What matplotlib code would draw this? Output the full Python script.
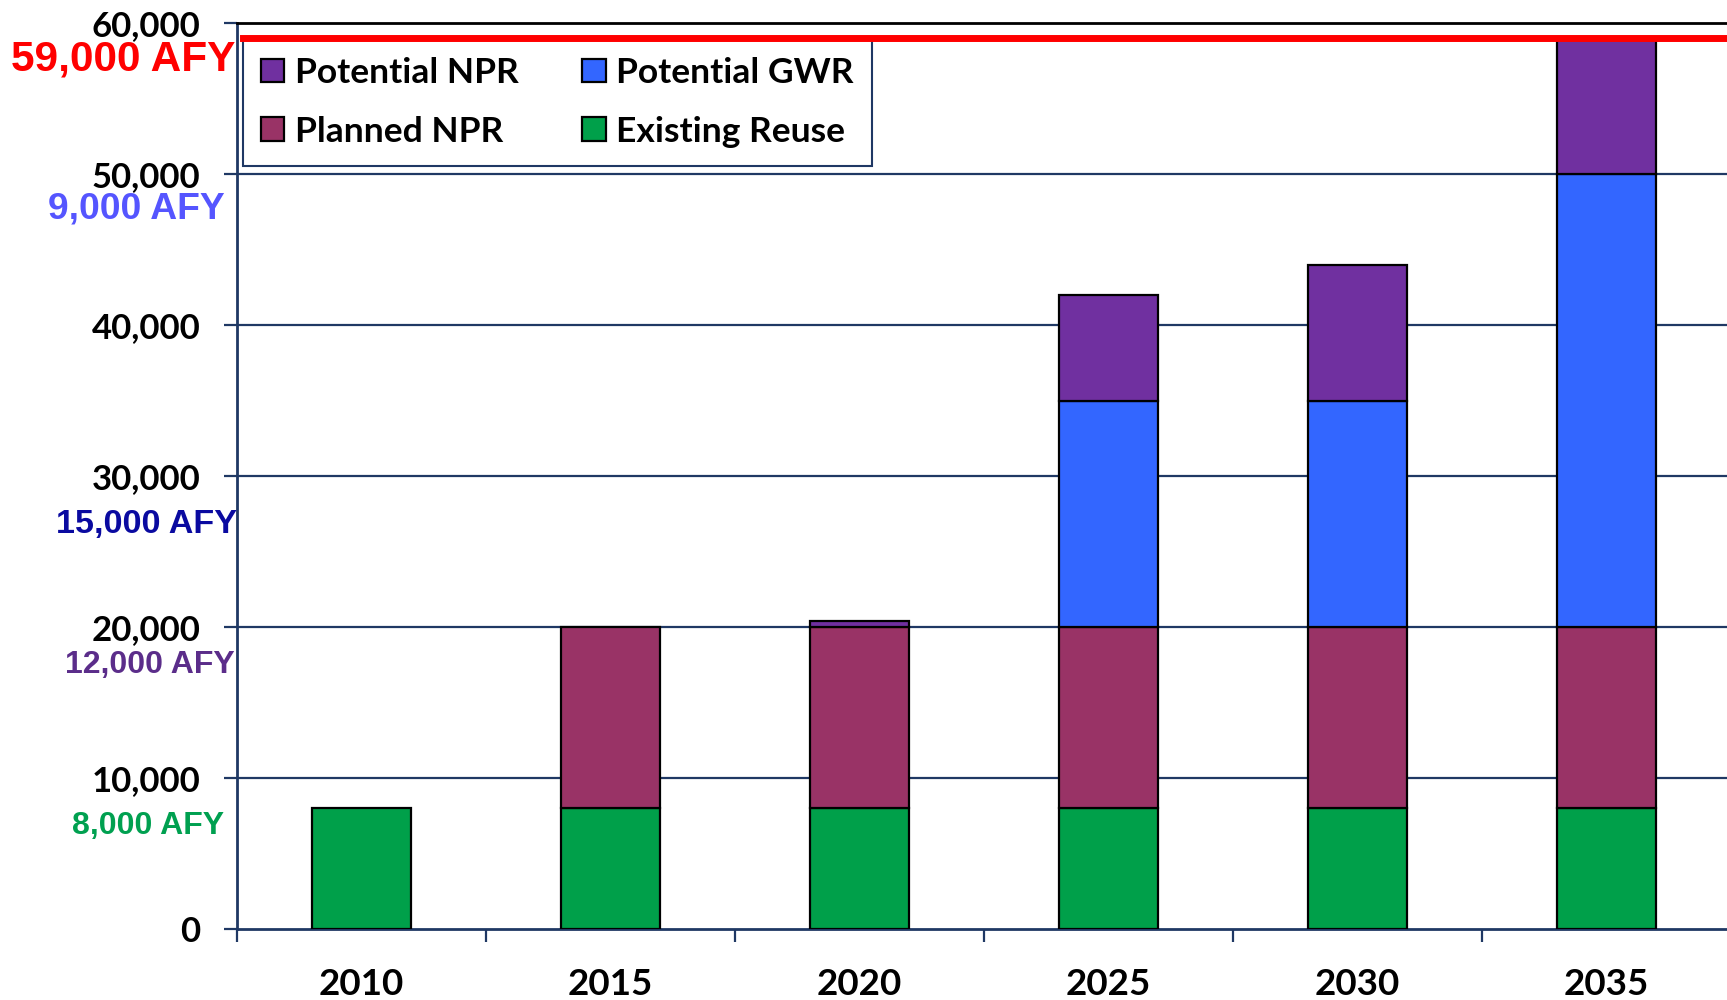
import matplotlib
matplotlib.use("Agg")
import matplotlib.pyplot as plt
import numpy as np

years = ["2010", "2015", "2020", "2025", "2030", "2035"]
existing_reuse = [8000, 8000, 8000, 8000, 8000, 8000]
planned_npr = [0, 12000, 12000, 12000, 12000, 12000]
potential_gwr = [0, 0, 0, 15000, 15000, 30000]
potential_npr = [0, 0, 400, 7000, 9000, 9000]
target = 59000
afy_text = ["59,000 AFY", "9,000 AFY", "15,000 AFY", "12,000 AFY", "8,000 AFY"]

# placement / style of the side labels (y in data units, x offset in px)
afy_y = [57600, 47700, 26800, 17480, 6820]
afy_dx = [-2, -12, 0, -2, -13]
afy_col = ["#FF0000", "#5555FF", "#0A0AA0", "#5B2D8A", "#00A050"]
afy_size = [30.5, 26.8, 24.6, 23, 23]

navy = "#1F3864"
x = np.arange(len(years))
w = 0.40

fig = plt.figure(figsize=(17.27, 10), dpi=100)
ax = fig.add_axes([0.1372, 0.071, 0.8651, 0.906])

bottom = np.zeros(len(years))
series = [
    ("Existing Reuse", existing_reuse, "#00A04A"),
    ("Planned NPR", planned_npr, "#993366"),
    ("Potential GWR", potential_gwr, "#3366FF"),
    ("Potential NPR", potential_npr, "#7030A0"),
]
bars = {}
for name, vals, col in series:
    vals = np.array(vals, dtype=float)
    mask = vals > 0
    b = ax.bar(x[mask], vals[mask], w, bottom=bottom[mask], color=col,
               edgecolor="black", linewidth=1.6, label=name, zorder=3)
    bars[name] = b
    bottom += vals

ax.set_xlim(-0.5, len(years) - 0.5)
ax.set_ylim(0, 60000)
ax.set_yticks(np.arange(0, 60001, 10000))
ax.set_yticklabels([f"{v:,}" for v in range(0, 60001, 10000)])
ax.set_xticks(x)
ax.set_xticklabels(years)
ax.set_xticks(np.arange(-0.5, len(years), 1), minor=True)

for v in range(10000, 60000, 10000):
    ax.axhline(v, color=navy, linewidth=1.6, zorder=1)

ax.spines["right"].set_visible(False)
ax.spines["top"].set_color("black")
ax.spines["top"].set_linewidth(2)
for s in ["left", "bottom"]:
    ax.spines[s].set_color(navy)
    ax.spines[s].set_linewidth(2)

ax.tick_params(axis="y", which="major", length=9.5, width=1.6, color=navy,
               pad=17, labelsize=25)
ax.tick_params(axis="x", which="major", length=0, pad=28, labelsize=26.5)
ax.tick_params(axis="x", which="minor", length=9.5, width=1.6, color=navy)
for lab in ax.get_yticklabels() + ax.get_xticklabels():
    lab.set_fontfamily("Lato")
    lab.set_fontweight("bold")

ax.axhline(target, xmin=0.004, xmax=1, color="#FF0000", linewidth=5, zorder=5)

handles = [bars["Potential NPR"], bars["Planned NPR"],
           bars["Potential GWR"], bars["Existing Reuse"]]
leg = ax.legend(handles, [h.get_label() for h in handles], ncol=2,
                loc="upper left", bbox_to_anchor=(0.004, 0.983),
                borderaxespad=0, fancybox=False, framealpha=1,
                edgecolor=navy, handlelength=0.65, handleheight=0.65,
                handletextpad=0.3, labelspacing=0.76, columnspacing=1.8,
                borderpad=0.52,
                prop={"family": "Lato", "weight": "bold", "size": 25.5})
leg.get_frame().set_linewidth(1.5)
leg.set_zorder(4)

for text, yv, dx, col, size in zip(afy_text, afy_y, afy_dx, afy_col, afy_size):
    ax.annotate(text, xy=(-0.5, yv), xytext=(dx * 0.72, 0),
                textcoords="offset points", ha="right", va="center",
                color=col, fontsize=size, fontweight="bold",
                family="Liberation Sans", annotation_clip=False)

fig.savefig("out.png", dpi=100)
